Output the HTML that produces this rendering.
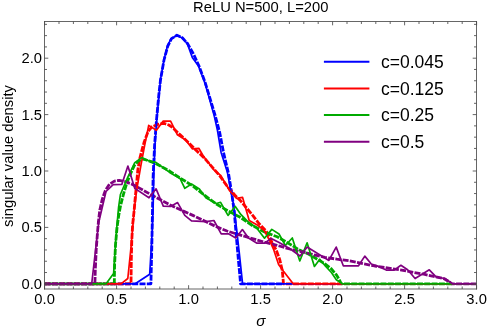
<!DOCTYPE html>
<html><head><meta charset="utf-8"><title>ReLU N=500, L=200</title><style>
html,body{margin:0;padding:0;background:#fff}
#c{will-change:transform;position:relative;width:498px;height:330px;overflow:hidden;background:#fff;font-family:"Liberation Sans",sans-serif;color:#000}
.t{position:absolute;white-space:nowrap;line-height:1}
.xt{font-size:14.75px;transform:translateX(-50%);top:291.8px}
.yt{font-size:14.75px;transform:translate(-100%,-50%);left:42.0px}
.lg{font-size:17.5px;left:381px;transform:translateY(-50%)}
</style></head><body><div id="c">
<svg width="498" height="330" viewBox="0 0 498 330" style="position:absolute;left:0;top:0">
<defs><clipPath id="cp"><rect x="44.5" y="21.5" width="432.0" height="267.5"/></clipPath></defs>
<g clip-path="url(#cp)" fill="none" stroke-linejoin="round" stroke-linecap="butt">
<polyline points="44.6,283.8 150.9,283.8 151.8,247.4 152.5,210.0 153.1,177.0 154.6,145.0 156.5,120.0 158.8,95.0 160.5,80.0 164.0,60.0 167.8,46.0 171.5,38.7 176.9,35.2 182.3,37.7 187.5,43.5 193.5,54.0 199.0,66.0 205.0,82.0 209.0,95.0 215.0,114.9 219.6,132.0 223.5,152.4 228.6,174.0 232.0,195.0 234.3,212.0 236.2,235.0 238.4,260.0 240.6,283.8 283.0,283.8" stroke="#0000ff" stroke-width="2.8" stroke-dasharray="6 1.3" stroke-dashoffset="0"/>
<polyline points="44.6,283.8 131.0,283.8 131.3,260.0 131.8,240.0 132.6,225.0 134.2,210.0 135.3,197.0 136.5,185.0 137.8,170.0 139.9,158.0 142.2,149.0 144.2,142.0 146.0,137.0 148.2,131.3 151.8,126.9 157.9,124.4 163.9,123.3 168.8,125.0 172.4,127.4 178.5,133.3 187.3,141.5 195.8,150.0 204.2,157.9 212.7,167.6 219.5,175.5 227.4,186.5 234.7,195.0 240.8,201.1 246.8,208.3 252.9,215.6 258.9,223.5 265.5,230.5 268.2,234.1 272.5,243.6 276.2,250.0 279.8,259.7 282.3,270.6 283.5,283.8 341.3,283.8" stroke="#ff0000" stroke-width="2.8" stroke-dasharray="6 1.3" stroke-dashoffset="0"/>
<polyline points="44.6,283.8 114.3,283.8 114.6,265.0 115.5,245.0 117.0,228.0 118.8,215.0 120.3,207.0 121.5,202.0 123.5,194.2 127.1,182.1 130.8,173.2 134.5,165.2 138.2,161.1 141.8,159.0 146.2,160.0 154.7,162.9 169.6,171.1 180.0,178.0 192.1,185.5 204.2,195.0 216.4,204.0 228.5,211.2 239.8,217.0 252.3,225.5 264.7,232.0 277.2,236.8 286.4,242.0 292.4,245.6 298.5,249.5 307.1,253.4 313.2,256.8 319.2,260.4 325.3,264.0 331.4,268.9 336.2,274.6 339.2,279.5 341.3,283.8 452.0,283.8" stroke="#00aa00" stroke-width="2.8" stroke-dasharray="6 1.3" stroke-dashoffset="3.65"/>
<polyline points="44.6,283.8 94.9,283.8 95.3,270.0 96.2,250.0 97.3,235.0 98.4,222.0 99.8,210.0 102.3,199.1 105.3,190.6 109.5,184.2 114.4,181.1 119.2,180.4 125.3,181.6 131.4,183.9 137.4,187.0 143.5,190.4 149.5,193.8 157.2,198.0 169.6,204.7 182.0,210.5 194.0,215.9 214.9,226.0 227.0,231.0 239.8,234.9 264.7,242.2 277.0,245.3 289.6,249.0 302.0,251.8 314.0,254.8 324.9,257.3 337.0,259.2 349.8,260.9 374.7,266.0 399.6,269.8 423.8,274.2 443.7,278.5 449.9,282.2 451.7,283.8 476.3,283.8" stroke="#800080" stroke-width="2.8" stroke-dasharray="6 1.3" stroke-dashoffset="0"/>
<polyline points="44.6,283.8 135.2,283.8 149.7,274.2 152.0,234.9 153.1,210.0 153.7,176.9 155.0,144.8 156.7,119.9 159.1,95.0 160.4,79.8 164.0,59.8 167.4,46.1 171.1,38.7 176.9,35.4 182.3,37.9 187.3,43.7 192.3,57.4 198.5,66.1 204.7,82.3 208.4,95.0 214.0,114.9 217.4,130.0 221.1,152.4 227.4,172.3 231.1,192.3 233.6,205.0 235.8,222.0 239.2,252.0 242.6,283.8 476.3,283.8" stroke="#0000ff" stroke-width="1.7"/>
<polyline points="44.6,283.8 121.0,283.8 127.8,278.5 131.0,247.4 134.2,210.0 136.7,189.8 141.0,164.9 144.7,145.0 146.8,134.9 148.7,125.4 156.4,130.3 163.2,121.1 170.6,121.1 177.3,134.7 185.5,139.8 192.3,148.8 198.8,148.3 203.0,155.5 213.9,169.9 220.6,175.3 229.8,191.0 236.4,198.3 242.6,197.4 249.2,220.5 257.7,225.3 264.3,230.5 270.0,241.4 273.8,250.0 278.6,264.5 283.5,271.2 293.2,283.8 476.3,283.8" stroke="#ff0000" stroke-width="1.7"/>
<polyline points="44.6,283.8 106.1,283.8 113.6,273.5 116.1,234.9 118.6,207.2 120.4,194.5 127.6,177.5 134.8,162.6 141.8,157.6 149.2,161.0 155.9,162.4 169.6,172.4 180.0,178.4 184.8,188.3 191.5,184.1 199.4,188.9 206.1,198.0 216.4,203.5 220.6,202.3 228.0,215.4 235.3,206.5 240.8,214.4 248.6,222.3 256.5,227.7 264.5,238.2 271.8,229.4 279.0,234.0 285.4,245.5 292.3,238.0 299.8,261.0 307.1,242.8 314.4,266.5 319.8,259.2 325.3,265.9 331.4,272.5 336.3,279.7 342.3,283.8 476.3,283.8" stroke="#00aa00" stroke-width="1.7"/>
<polyline points="44.6,283.8 91.7,283.8 97.3,234.9 98.8,222.0 106.0,191.5 113.2,184.6 121.8,184.4 127.9,166.1 134.8,188.4 149.0,197.8 156.1,188.8 163.3,206.1 170.5,206.4 177.6,202.6 184.8,215.3 191.5,220.8 206.1,221.6 213.9,220.5 221.2,233.8 228.5,233.8 235.8,238.1 242.4,229.6 248.5,238.1 257.0,243.2 264.5,243.2 271.2,238.4 279.1,242.6 290.0,248.7 300.0,256.0 307.1,247.1 328.9,260.4 336.2,247.1 343.3,265.8 358.5,265.8 364.8,256.1 371.3,264.0 378.4,266.4 386.3,270.1 394.2,270.1 400.9,265.3 407.6,269.8 415.1,278.5 429.3,269.8 436.3,277.2 445.0,278.5 452.4,283.8 476.3,283.8" stroke="#800080" stroke-width="1.7"/>
</g>
<g stroke="#4a4a4a" stroke-width="0.85" fill="none">
<path d="M44.5 21.0V289.5M476.5 21.0V289.5M44.0 21.5H477.0"/>
<path d="M44.0 289.0H477.0"/>
<path d="M44.60 289.0v-3.8M44.60 21.5v3.8M59.00 289.0v-2.5M59.00 21.5v2.5M73.40 289.0v-2.5M73.40 21.5v2.5M87.80 289.0v-2.5M87.80 21.5v2.5M102.20 289.0v-2.5M102.20 21.5v2.5M116.60 289.0v-3.8M116.60 21.5v3.8M131.00 289.0v-2.5M131.00 21.5v2.5M145.40 289.0v-2.5M145.40 21.5v2.5M159.80 289.0v-2.5M159.80 21.5v2.5M174.20 289.0v-2.5M174.20 21.5v2.5M188.60 289.0v-3.8M188.60 21.5v3.8M203.00 289.0v-2.5M203.00 21.5v2.5M217.40 289.0v-2.5M217.40 21.5v2.5M231.80 289.0v-2.5M231.80 21.5v2.5M246.20 289.0v-2.5M246.20 21.5v2.5M260.60 289.0v-3.8M260.60 21.5v3.8M275.00 289.0v-2.5M275.00 21.5v2.5M289.40 289.0v-2.5M289.40 21.5v2.5M303.80 289.0v-2.5M303.80 21.5v2.5M318.20 289.0v-2.5M318.20 21.5v2.5M332.60 289.0v-3.8M332.60 21.5v3.8M347.00 289.0v-2.5M347.00 21.5v2.5M361.40 289.0v-2.5M361.40 21.5v2.5M375.80 289.0v-2.5M375.80 21.5v2.5M390.20 289.0v-2.5M390.20 21.5v2.5M404.60 289.0v-3.8M404.60 21.5v3.8M419.00 289.0v-2.5M419.00 21.5v2.5M433.40 289.0v-2.5M433.40 21.5v2.5M447.80 289.0v-2.5M447.80 21.5v2.5M462.20 289.0v-2.5M462.20 21.5v2.5M476.60 289.0v-3.8M476.60 21.5v3.8M44.5 283.80h3.8M476.5 283.80h-3.8M44.5 272.52h2.5M476.5 272.52h-2.5M44.5 261.24h2.5M476.5 261.24h-2.5M44.5 249.96h2.5M476.5 249.96h-2.5M44.5 238.68h2.5M476.5 238.68h-2.5M44.5 227.40h3.8M476.5 227.40h-3.8M44.5 216.12h2.5M476.5 216.12h-2.5M44.5 204.84h2.5M476.5 204.84h-2.5M44.5 193.56h2.5M476.5 193.56h-2.5M44.5 182.28h2.5M476.5 182.28h-2.5M44.5 171.00h3.8M476.5 171.00h-3.8M44.5 159.72h2.5M476.5 159.72h-2.5M44.5 148.44h2.5M476.5 148.44h-2.5M44.5 137.16h2.5M476.5 137.16h-2.5M44.5 125.88h2.5M476.5 125.88h-2.5M44.5 114.60h3.8M476.5 114.60h-3.8M44.5 103.32h2.5M476.5 103.32h-2.5M44.5 92.04h2.5M476.5 92.04h-2.5M44.5 80.76h2.5M476.5 80.76h-2.5M44.5 69.48h2.5M476.5 69.48h-2.5M44.5 58.20h3.8M476.5 58.20h-3.8M44.5 46.92h2.5M476.5 46.92h-2.5M44.5 35.64h2.5M476.5 35.64h-2.5M44.5 24.36h2.5M476.5 24.36h-2.5"/>
</g>
<line x1="323.9" x2="369.4" y1="61.8" y2="61.8" stroke="#0000ff" stroke-width="2"/>
<line x1="323.9" x2="369.4" y1="88.4" y2="88.4" stroke="#ff0000" stroke-width="2"/>
<line x1="323.9" x2="369.4" y1="115.1" y2="115.1" stroke="#00aa00" stroke-width="2"/>
<line x1="323.9" x2="369.4" y1="141.8" y2="141.8" stroke="#800080" stroke-width="2"/>
</svg>
<div class="t" style="font-size:14.75px;left:193.1px;top:0.4px">ReLU N=500, L=200</div>
<div class="t xt" style="left:44.6px">0.0</div>
<div class="t xt" style="left:116.6px">0.5</div>
<div class="t xt" style="left:188.6px">1.0</div>
<div class="t xt" style="left:260.6px">1.5</div>
<div class="t xt" style="left:332.6px">2.0</div>
<div class="t xt" style="left:404.6px">2.5</div>
<div class="t xt" style="left:476.6px">3.0</div>
<div class="t yt" style="top:283.7px">0.0</div>
<div class="t yt" style="top:227.3px">0.5</div>
<div class="t yt" style="top:170.9px">1.0</div>
<div class="t yt" style="top:114.5px">1.5</div>
<div class="t yt" style="top:58.1px">2.0</div>
<div class="t lg" style="top:63.0px">c=0.045</div>
<div class="t lg" style="top:89.6px">c=0.125</div>
<div class="t lg" style="top:116.3px">c=0.25</div>
<div class="t lg" style="top:142.9px">c=0.5</div>
<div class="t" style="font-size:14.75px;left:8.2px;top:155.5px;transform:translate(-50%,-50%) rotate(-90deg)">singular value density</div>
<div class="t" style="font-size:15.3px;font-style:italic;left:260.8px;top:313.0px;transform:translateX(-50%)">σ</div>
</div></body></html>
